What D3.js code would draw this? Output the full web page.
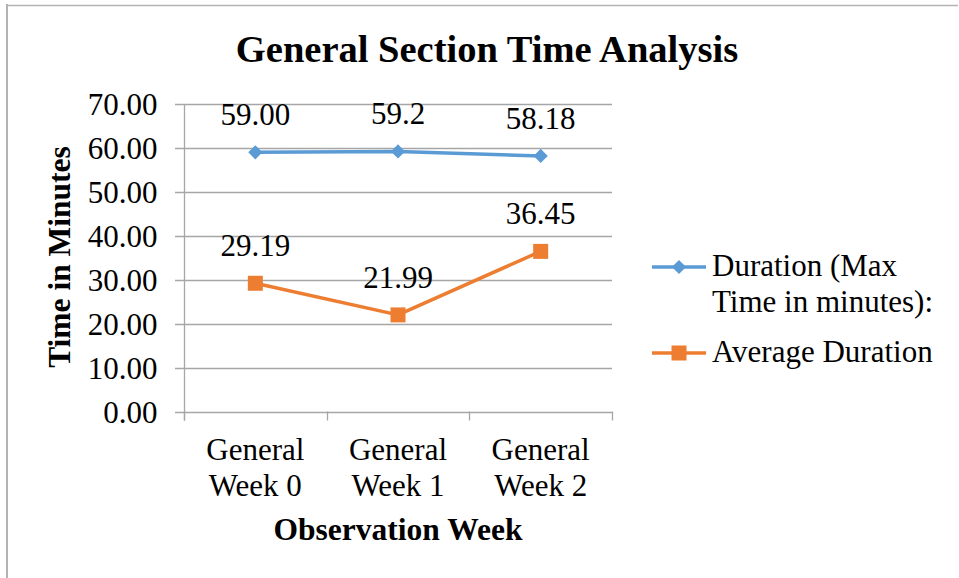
<!DOCTYPE html>
<html>
<head>
<meta charset="utf-8">
<script src="https://cdn.jsdelivr.net/npm/d3@7"></script>
<style>
  html, body { margin: 0; padding: 0; background: #fff; }
  svg { display: block; }
  svg text { font-family: "Liberation Serif", "Times New Roman", serif; }
</style>
</head>
<body>
<svg id="chart" width="959" height="578"></svg>
<script>
const categories = ["General Week 0", "General Week 1", "General Week 2"];
const categoryLines = [["General", "Week 0"], ["General", "Week 1"], ["General", "Week 2"]];
const seriesNames = ["Duration (Max Time in minutes):", "Average Duration"];
const durationValues = [59.00, 59.2, 58.18];
const averageValues = [29.19, 21.99, 36.45];
const durationLabels = ["59.00", "59.2", "58.18"];
const averageLabels = ["29.19", "21.99", "36.45"];
const yTicks = [0, 10, 20, 30, 40, 50, 60, 70];

const FONT = "Liberation Serif, Times New Roman, serif";
const svg = d3.select("#chart");
const colors = ["#5B9BD5", "#ED7D31"];
const gridColor = "#a6a6a6";

// outer frame (left and top edges visible)
svg.append("line").attr("x1", 7).attr("x2", 7).attr("y1", 4).attr("y2", 578)
  .attr("stroke", "#b3b3b3").attr("stroke-width", 2);
svg.append("line").attr("x1", 6).attr("x2", 958).attr("y1", 5.5).attr("y2", 5.5)
  .attr("stroke", "#b3b3b3").attr("stroke-width", 1.5);

const plot = { left: 184, right: 612, top: 104, bottom: 411.5 };

const x = d3.scaleBand().domain(categories).range([plot.left, plot.right]).padding(0);
const y = d3.scaleLinear().domain([0, 70]).range([plot.bottom, plot.top]);

// title
svg.append("text").attr("x", 487).attr("y", 62).attr("text-anchor", "middle")
  .attr("font-family", FONT)
  .attr("font-size", 38.5).attr("font-weight", "bold").text("General Section Time Analysis");

// gridlines
svg.append("g").selectAll("line").data(yTicks).join("line")
  .attr("x1", plot.left - 9).attr("x2", plot.right)
  .attr("y1", d => Math.round(y(d)) + 0.5).attr("y2", d => Math.round(y(d)) + 0.5)
  .attr("stroke", gridColor).attr("stroke-width", 1.3);

// y axis
const yAxis = svg.append("g").attr("transform", `translate(${plot.left + 0.5},0)`)
  .call(d3.axisLeft(y).tickValues(yTicks).tickFormat(d3.format(".2f")).tickSize(9).tickPadding(18));
yAxis.attr("font-family", FONT);
yAxis.select(".domain").attr("stroke", gridColor).attr("stroke-width", 1.3)
  .attr("d", `M0,${plot.top}V${plot.bottom + 9}`);
yAxis.selectAll(".tick line").remove();
yAxis.selectAll(".tick text").attr("font-size", 31).attr("fill", "#000")
  .attr("font-family", FONT).attr("dy", "0.34em");

// x axis boundary ticks
const xBounds = [plot.left].concat(categories.map(c => x(c) + x.bandwidth()));
svg.append("g").selectAll("line").data(xBounds).join("line")
  .attr("x1", d => Math.round(d) + 0.5).attr("x2", d => Math.round(d) + 0.5)
  .attr("y1", plot.bottom).attr("y2", plot.bottom + 9)
  .attr("stroke", gridColor).attr("stroke-width", 1.3);

// category labels
const catG = svg.append("g");
categories.forEach((c, i) => {
  const cx = x(c) + x.bandwidth() / 2;
  categoryLines[i].forEach((ln, j) => {
    catG.append("text").attr("x", cx).attr("y", 460 + j * 36).attr("text-anchor", "middle")
      .attr("font-family", FONT).attr("font-size", 31).text(ln);
  });
});

// axis titles
svg.append("text").attr("x", 398).attr("y", 540).attr("text-anchor", "middle")
  .attr("font-family", FONT)
  .attr("font-size", 31.5).attr("font-weight", "bold").text("Observation Week");
svg.append("text").attr("transform", "translate(70,257) rotate(-90)").attr("text-anchor", "middle")
  .attr("font-family", FONT)
  .attr("font-size", 31.5).attr("font-weight", "bold").text("Time in Minutes");

// series
const cx = c => x(c) + x.bandwidth() / 2;
const line = d3.line().x(d => cx(d.c)).y(d => y(d.v));
const dur = categories.map((c, i) => ({ c, v: durationValues[i], label: durationLabels[i] }));
const avg = categories.map((c, i) => ({ c, v: averageValues[i], label: averageLabels[i] }));

svg.append("path").datum(dur).attr("d", line).attr("fill", "none")
  .attr("stroke", colors[0]).attr("stroke-width", 3.5).attr("stroke-linejoin", "round");
svg.append("path").datum(avg).attr("d", line).attr("fill", "none")
  .attr("stroke", colors[1]).attr("stroke-width", 3.5).attr("stroke-linejoin", "round");

const diamond = d3.symbol().type(d3.symbolSquare).size(100);
svg.append("g").selectAll("path").data(dur).join("path")
  .attr("d", diamond())
  .attr("transform", d => `translate(${cx(d.c)},${y(d.v)}) rotate(45)`)
  .attr("fill", colors[0]);
svg.append("g").selectAll("rect").data(avg).join("rect")
  .attr("x", d => cx(d.c) - 7.5).attr("y", d => y(d.v) - 7.5)
  .attr("width", 15).attr("height", 15).attr("fill", colors[1]);

// data labels
svg.append("g").selectAll("text").data(dur.concat(avg)).join("text")
  .attr("x", d => cx(d.c)).attr("y", d => y(d.v) - 27).attr("text-anchor", "middle")
  .attr("font-family", FONT).attr("font-size", 31).text(d => d.label);

// legend
const leg = svg.append("g");
const legItems = [
  { y: 267, lines: ["Duration (Max", "Time in minutes):"], ty: 276, sym: "diamond" },
  { y: 353, lines: ["Average Duration"], ty: 362, sym: "square" }
];
legItems.forEach((it, i) => {
  leg.append("line").attr("x1", 652).attr("x2", 706).attr("y1", it.y).attr("y2", it.y)
    .attr("stroke", colors[i]).attr("stroke-width", 3.5);
  if (it.sym === "diamond") {
    leg.append("path").attr("d", diamond()).attr("transform", `translate(679,${it.y}) rotate(45)`)
      .attr("fill", colors[i]);
  } else {
    leg.append("rect").attr("x", 679 - 7.5).attr("y", it.y - 7.5).attr("width", 15).attr("height", 15)
      .attr("fill", colors[i]);
  }
  it.lines.forEach((t, j) => {
    leg.append("text").attr("x", 712).attr("y", it.ty + j * 36)
      .attr("font-family", FONT).attr("font-size", 31).text(t);
  });
});
</script>
</body>
</html>
